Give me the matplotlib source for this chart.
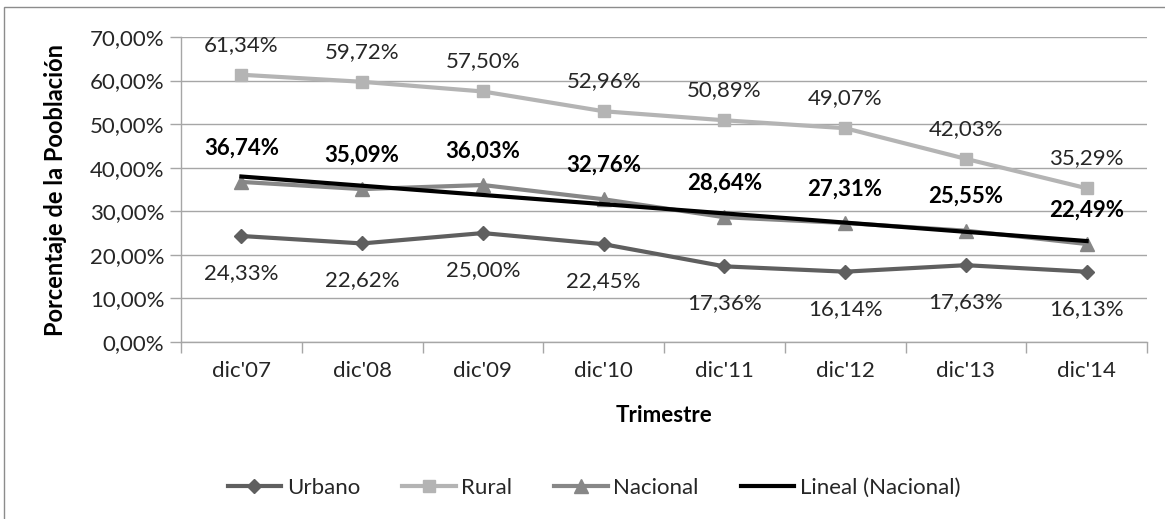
import numpy as np
import matplotlib
matplotlib.use("Agg")
import matplotlib.pyplot as plt
from matplotlib.lines import Line2D
from matplotlib.patches import Rectangle

plt.rcParams['font.family'] = ['Lato', 'DejaVu Sans']

categories = ["dic'07", "dic'08", "dic'09", "dic'10", "dic'11", "dic'12", "dic'13", "dic'14"]
urbano = [24.33, 22.62, 25.00, 22.45, 17.36, 16.14, 17.63, 16.13]
rural = [61.34, 59.72, 57.50, 52.96, 50.89, 49.07, 42.03, 35.29]
nacional = [36.74, 35.09, 36.03, 32.76, 28.64, 27.31, 25.55, 22.49]
y_ticks = [0, 10, 20, 30, 40, 50, 60, 70]

c_urb = '#5f5f5f'
c_rur = '#b4b4b4'
c_nac = '#878787'
c_grid = '#a6a6a6'
c_text = '#262626'
FS = 16

W, H = 1165, 519
fig = plt.figure(figsize=(W / 100, H / 100), dpi=100)
fig.patches.append(Rectangle((4 / W, -0.1), 1.2, (H - 7) / H + 0.1,
                             transform=fig.transFigure, fill=False,
                             edgecolor='#8c8c8c', linewidth=1.0))

ax = fig.add_axes([181 / W, 177 / H, (1147 - 181) / W, (342 - 37) / H])
x = np.arange(len(categories)) + 0.5

ax.set_xlim(0, len(categories))
ax.set_ylim(0, 70)
ax.set_yticks(y_ticks)
ax.set_yticklabels([f"{v:.2f}".replace('.', ',') + '%' for v in y_ticks])
ax.yaxis.grid(True, color=c_grid, linewidth=1.0)
ax.set_axisbelow(True)
ax.set_xticks(np.arange(len(categories) + 1))
ax.set_xticklabels([])
ax.set_xticks(x, minor=True)
ax.set_xticklabels(categories, minor=True)
ax.tick_params(axis='x', which='major', length=8, color=c_grid, width=1.0)
ax.tick_params(axis='x', which='minor', length=0, pad=14, labelsize=FS, labelcolor=c_text)
ax.tick_params(axis='y', length=8, color=c_grid, width=1.0, labelsize=FS, labelcolor=c_text, pad=4)
for s in ['top', 'right']:
    ax.spines[s].set_visible(False)
for s in ['left', 'bottom']:
    ax.spines[s].set_color(c_grid)
    ax.spines[s].set_linewidth(1.0)

ax.plot(x, urbano, color=c_urb, lw=3, marker='D', ms=7, label='Urbano', zorder=3)
ax.plot(x, rural, color=c_rur, lw=3, marker='s', ms=9, label='Rural', zorder=3)
ax.plot(x, nacional, color=c_nac, lw=3, marker='^', ms=10, label='Nacional', zorder=3)

# least-squares trend of the national series
idx = np.arange(1, len(nacional) + 1)
slope, intercept = np.polyfit(idx, nacional, 1)
trend = slope * idx + intercept
ax.plot(x, trend, color='black', lw=3, label='Lineal (Nacional)', zorder=4)


def fmt(v):
    return f"{v:.2f}".replace('.', ',') + '%'


for xi, v in zip(x, rural):
    ax.annotate(fmt(v), (xi, v), xytext=(0, 30), textcoords='offset pixels',
                ha='center', va='center', fontsize=FS, color=c_text)
for xi, v in zip(x, nacional):
    ax.annotate(fmt(v), (xi, v), xytext=(0, 34), textcoords='offset pixels',
                ha='center', va='center', fontsize=FS, fontweight='bold', color='black')
for xi, v in zip(x, urbano):
    ax.annotate(fmt(v), (xi, v), xytext=(0, -37), textcoords='offset pixels',
                ha='center', va='center', fontsize=FS, color=c_text)

ax.set_ylabel('Porcentaje de la Pooblación', fontsize=17, fontweight='bold', color='black')
ax.yaxis.set_label_coords(-(181 - 67) / (1147 - 181), 0.5)
fig.text(664 / W, 1 - 415 / H, 'Trimestre', ha='center', va='center',
         fontsize=FS, fontweight='bold', color='black')

handles = [
    Line2D([], [], color=c_urb, lw=3, marker='D', ms=7),
    Line2D([], [], color=c_rur, lw=3, marker='s', ms=9),
    Line2D([], [], color=c_nac, lw=3, marker='^', ms=10),
    Line2D([], [], color='black', lw=3),
]
labels = ['Urbano', 'Rural', 'Nacional', 'Lineal (Nacional)']
fig.legend(handles, labels, loc='center', bbox_to_anchor=(594 / W, 1 - 488 / H),
           ncol=4, frameon=False, fontsize=FS, handlelength=2.4, handletextpad=0.25,
           columnspacing=1.9, labelcolor=c_text)

fig.savefig('out.png', dpi=100)
